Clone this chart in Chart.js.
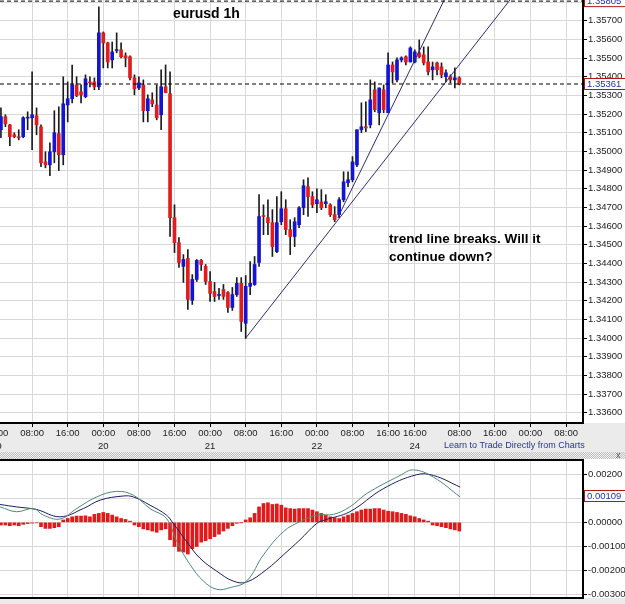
<!DOCTYPE html>
<html>
<head>
<meta charset="utf-8">
<script src="https://cdn.jsdelivr.net/npm/chart.js@4.4.0/dist/chart.umd.min.js"></script>
<style>
  html, body { margin: 0; padding: 0; background: #ebebeb; }
  #wrap { position: relative; width: 625px; height: 604px; overflow: hidden; background: #ebebeb; }
  #mainChart { position: absolute; left: 0; top: 0; }
  #hatch { position: absolute; left: 0; top: 452px; width: 625px; height: 7px;
           background: repeating-conic-gradient(#c0c0c0 0 25%, #f0f0f0 0 50%) 0 0 / 2px 2px; }
  #close { position: absolute; left: 616px; top: 450px; font: 9px "Liberation Sans", Arial, sans-serif; color: #555; }
  #macdChart { position: absolute; left: 0; top: 459px; }
</style>
</head>
<body>
<div id="wrap">
  <canvas id="mainChart" width="625" height="452"></canvas>
  <div id="hatch"></div>
  <div id="close">x</div>
  <canvas id="macdChart" width="625" height="145"></canvas>
</div>
<script>
/* eurusd 1h — candles + MACD panel */

// hourly bars, index 1 = 01:00 on the 19th
const candleOpen = [
  1.35116, 1.35186, 1.35142, 1.35089, 1.35075, 1.35079, 1.35178, 1.35180, 1.35191, 1.35132,
  1.34944, 1.34928, 1.34998, 1.35095, 1.34982, 1.35249, 1.35282, 1.35356, 1.35319, 1.35293,
  1.35370, 1.35372, 1.35346, 1.35635, 1.35581, 1.35490, 1.35540, 1.35544, 1.35512, 1.35507,
  1.35394, 1.35340, 1.35356, 1.35218, 1.35276, 1.35249, 1.35196, 1.35346, 1.35309, 1.34645,
  1.34511, 1.34384, 1.34426, 1.34202, 1.34314, 1.34416, 1.34384, 1.34303, 1.34249, 1.34228,
  1.34260, 1.34244, 1.34164, 1.34233, 1.34293, 1.34079, 1.34277, 1.34287, 1.34405, 1.34656,
  1.34645, 1.34618, 1.34463, 1.34623, 1.34693, 1.34581, 1.34544, 1.34607, 1.34698, 1.34811,
  1.34758, 1.34720, 1.34730, 1.34720, 1.34714, 1.34661, 1.34661, 1.34741, 1.34832, 1.34848,
  1.34928, 1.35116, 1.35132, 1.35142, 1.35330, 1.35207, 1.35330, 1.35207, 1.35463, 1.35383,
  1.35490, 1.35507, 1.35479, 1.35479, 1.35528, 1.35517, 1.35479, 1.35437, 1.35474, 1.35453,
  1.35400, 1.35400, 1.35383, 1.35394
];
const candleHigh = [
  1.35233, 1.35196, 1.35145, 1.35100, 1.35116, 1.35186, 1.35212, 1.35426, 1.35233, 1.35142,
  1.34998, 1.35046, 1.35218, 1.35239, 1.35400, 1.35372, 1.35463, 1.35400, 1.35356, 1.35410,
  1.35400, 1.35394, 1.35774, 1.35640, 1.35585, 1.35586, 1.35635, 1.35581, 1.35528, 1.35512,
  1.35410, 1.35400, 1.35383, 1.35303, 1.35314, 1.35356, 1.35437, 1.35463, 1.35426, 1.34714,
  1.34538, 1.34447, 1.34474, 1.34340, 1.34421, 1.34421, 1.34394, 1.34356, 1.34298, 1.34266,
  1.34287, 1.34249, 1.34271, 1.34324, 1.34324, 1.34335, 1.34410, 1.34437, 1.34768, 1.34714,
  1.34741, 1.34688, 1.34758, 1.34784, 1.34741, 1.34634, 1.34645, 1.34704, 1.34848, 1.34859,
  1.34784, 1.34800, 1.34795, 1.34768, 1.34720, 1.34704, 1.34752, 1.34891, 1.34891, 1.34972,
  1.35116, 1.35260, 1.35265, 1.35383, 1.35372, 1.35340, 1.35356, 1.35528, 1.35479, 1.35501,
  1.35507, 1.35512, 1.35560, 1.35544, 1.35597, 1.35560, 1.35560, 1.35479, 1.35479, 1.35474,
  1.35437, 1.35410, 1.35447, 1.35400
];
const candleLow = [
  1.35073, 1.35132, 1.35030, 1.35073, 1.35062, 1.35073, 1.35116, 1.35009, 1.35089, 1.34918,
  1.34912, 1.34870, 1.34939, 1.34897, 1.34928, 1.35158, 1.35260, 1.35293, 1.35260, 1.35287,
  1.35346, 1.35330, 1.35330, 1.35447, 1.35447, 1.35447, 1.35528, 1.35501, 1.35453, 1.35383,
  1.35303, 1.35330, 1.35158, 1.35158, 1.35239, 1.35169, 1.35116, 1.35314, 1.34544, 1.34458,
  1.34378, 1.34298, 1.34153, 1.34180, 1.34303, 1.34362, 1.34287, 1.34196, 1.34196, 1.34207,
  1.34207, 1.34137, 1.34148, 1.34223, 1.34035, 1.33998, 1.34233, 1.34282, 1.34384, 1.34554,
  1.34554, 1.34437, 1.34458, 1.34607, 1.34554, 1.34447, 1.34490, 1.34591, 1.34661, 1.34651,
  1.34698, 1.34672, 1.34688, 1.34698, 1.34651, 1.34623, 1.34645, 1.34730, 1.34811, 1.34837,
  1.34918, 1.35100, 1.35105, 1.35126, 1.35212, 1.35142, 1.35207, 1.35207, 1.35367, 1.35372,
  1.35479, 1.35463, 1.35479, 1.35474, 1.35501, 1.35463, 1.35410, 1.35383, 1.35410, 1.35394,
  1.35372, 1.35367, 1.35340, 1.35356
];
const candleClose = [
  1.35186, 1.35148, 1.35079, 1.35079, 1.35073, 1.35180, 1.35180, 1.35196, 1.35142, 1.34939,
  1.34928, 1.34998, 1.35100, 1.34982, 1.35255, 1.35282, 1.35356, 1.35298, 1.35303, 1.35389,
  1.35367, 1.35346, 1.35635, 1.35581, 1.35479, 1.35533, 1.35544, 1.35507, 1.35501, 1.35394,
  1.35335, 1.35367, 1.35218, 1.35282, 1.35255, 1.35180, 1.35346, 1.35314, 1.34645, 1.34511,
  1.34405, 1.34421, 1.34207, 1.34314, 1.34416, 1.34394, 1.34303, 1.34239, 1.34223, 1.34233,
  1.34223, 1.34164, 1.34233, 1.34293, 1.34089, 1.34277, 1.34293, 1.34394, 1.34651, 1.34651,
  1.34618, 1.34490, 1.34618, 1.34693, 1.34581, 1.34544, 1.34623, 1.34698, 1.34816, 1.34758,
  1.34714, 1.34741, 1.34698, 1.34730, 1.34661, 1.34634, 1.34741, 1.34837, 1.34848, 1.34944,
  1.35116, 1.35132, 1.35126, 1.35276, 1.35223, 1.35340, 1.35223, 1.35463, 1.35426, 1.35490,
  1.35501, 1.35479, 1.35554, 1.35533, 1.35507, 1.35474, 1.35426, 1.35453, 1.35437, 1.35410,
  1.35421, 1.35383, 1.35394, 1.35361
];

// MACD histogram, one per bar
const macdHist = [
  -0.00011, -0.00011, -0.00014, -0.00011, -0.00014, -0.00008, -0.00005, -0.00003, -0.00002, -0.00018,
  -0.00025, -0.00025, -0.00022, -0.00018,  0.00010,  0.00016,  0.00023,  0.00026,  0.00026,  0.00027,
   0.00023,  0.00033,  0.00037,  0.00041,  0.00037,  0.00030,  0.00023,  0.00016,  0.00012,  0.00005,
  -0.00011, -0.00018, -0.00027, -0.00031, -0.00036, -0.00041, -0.00031, -0.00027, -0.00072, -0.00100,
  -0.00120, -0.00123, -0.00131, -0.00109, -0.00100, -0.00082, -0.00076, -0.00068, -0.00059, -0.00049,
  -0.00036, -0.00025, -0.00014, -0.00004, -0.00001,  0.00010,  0.00019,  0.00037,  0.00064,  0.00078,
   0.00081,  0.00074,  0.00076,  0.00071,  0.00060,  0.00057,  0.00055,  0.00057,  0.00057,  0.00057,
   0.00051,  0.00044,  0.00037,  0.00030,  0.00023,  0.00019,  0.00016,  0.00023,  0.00030,  0.00037,
   0.00044,  0.00051,  0.00055,  0.00055,  0.00057,  0.00057,  0.00051,  0.00046,  0.00044,  0.00041,
   0.00037,  0.00033,  0.00027,  0.00023,  0.00016,  0.00010,  0.00005, -0.00011, -0.00014, -0.00018,
  -0.00022, -0.00027, -0.00031, -0.00036
];

// MACD lines read at sample hours
const macdHours   = [0.8, 4.5, 8.3, 10.5, 14.3, 18, 22.5, 27, 30.8, 34.5, 38.2, 40.5, 43.5, 46.5, 49.5, 52.5, 56.2, 60, 64.5, 68.2, 72, 75.7, 79.4, 83.2, 90.7, 93.7, 98.2, 104.2];
const macdValues  = [0.00064, 0.00044, 0.00057, 0.00030, 0.00014, 0.00057, 0.00105, 0.00128, 0.00112, 0.00057, 0.00016, -0.00079, -0.00175, -0.00243, -0.00277, -0.00270, -0.00243, -0.00134, -0.00038, 0.00003, 0.00030, 0.00033, 0.00064, 0.00119, 0.00194, 0.00217, 0.00187, 0.00105];
const signalHours = [0.8, 4.5, 9, 14.3, 19.5, 23.3, 28.5, 30.8, 34.5, 38.2, 39.7, 42.7, 45.7, 49.5, 53.2, 56.2, 60.7, 64.5, 68.2, 72, 73.8, 79.4, 86.9, 94.4, 98.2, 104.2];
const signalValues = [0.00074, 0.00064, 0.00053, 0.00023, 0.00057, 0.00092, 0.00109, 0.00105, 0.00071, 0.00030, -0.00004, -0.00079, -0.00148, -0.00202, -0.00243, -0.00247, -0.00195, -0.00134, -0.00072, -0.00004, 0.00010, 0.00044, 0.00139, 0.00197, 0.00194, 0.00146];

// hand-drawn trend lines (hour, price)
const trendLineA = [{ x: 56, y: 1.34000 }, { x: 116, y: 1.35830 }];
const trendLineB = [{ x: 76.7, y: 1.34645 }, { x: 101, y: 1.35830 }];

const lastPrice = 1.35361;
const topPrice  = 1.35805;
const lastMacd  = 0.00109;

// x axis
const xTickHours = [0, 8, 16, 24, 32, 40, 48, 56, 64, 72, 80, 88, 94, 104, 112, 120, 128];
const xTickTimes = ['00:00', '08:00', '16:00', '00:00', '08:00', '16:00', '00:00', '08:00', '16:00',
                    '00:00', '08:00', '16:00', '16:00', '08:00', '16:00', '00:00', '08:00'];
const xTickDays  = ['19', '', '', '20', '', '', '21', '', '', '22', '', '', '24', '', '', '', ''];

const chartTitle = 'eurusd 1h';
const noteLines  = ['trend line breaks. Will it', 'continue down?'];
const footerLink = 'Learn to Trade Directly from Charts';

const X_MIN = 0.787, X_MAX = 131.8;
const Y_MIN = 1.33545, Y_MAX = 1.35811;
const M_MIN = -0.00313, M_MAX = 0.00258;

const FONT = '"Liberation Sans", Arial, sans-serif';
Chart.defaults.font.family = FONT;

const UP = '#1414d4', DOWN = '#e01c1c';

const bodies = candleOpen.map((o, i) => ({ x: i + 1, y: [o, candleClose[i]] }));
const wicks  = candleLow.map((l, i) => ({ x: i + 1, y: [l, candleHigh[i]] }));
const bodyColors = candleOpen.map((o, i) => candleClose[i] >= o ? UP : DOWN);

function priceBox(ctx, y, text) {
  ctx.save();
  ctx.fillStyle = '#fff';
  ctx.fillRect(584.5, y - 6, 41, 12);
  ctx.strokeStyle = '#b01818';
  ctx.lineWidth = 1;
  ctx.strokeRect(584.5, y - 5.5, 41, 11);
  ctx.fillStyle = '#2030a8';
  ctx.font = '9.5px ' + FONT;
  ctx.textBaseline = 'middle';
  ctx.fillText(text, 587, y + 0.5);
  ctx.restore();
}

const fixedTicks = s => { s.ticks = xTickHours.map(v => ({ value: v })); };

const mainDecor = {
  id: 'mainDecor',
  beforeDraw(chart) {
    const { ctx, chartArea } = chart;
    ctx.save();
    ctx.fillStyle = '#ebebeb';
    ctx.fillRect(0, 0, chart.width, chart.height);
    ctx.fillStyle = '#fff';
    ctx.fillRect(0, 0, chart.width, chartArea.bottom);
    ctx.restore();
  },
  afterDraw(chart) {
    const { ctx } = chart;
    const y = chart.scales.y;
    ctx.save();
    ctx.fillStyle = '#000';
    ctx.font = 'bold 14px ' + FONT;
    ctx.fillText(chartTitle, 173, 18);
    ctx.font = 'bold 13.5px ' + FONT;
    ctx.fillText(noteLines[0], 389, 243);
    ctx.fillText(noteLines[1], 389, 261);
    ctx.fillStyle = '#2a3590';
    ctx.font = '9px ' + FONT;
    ctx.fillText(footerLink, 444, 448);
    ctx.restore();
    priceBox(ctx, y.getPixelForValue(topPrice), topPrice.toFixed(5));
    priceBox(ctx, y.getPixelForValue(lastPrice), lastPrice.toFixed(5));
  }
};

new Chart(document.getElementById('mainChart'), {
  type: 'bar',
  data: {
    datasets: [
      { type: 'line', data: [{ x: X_MIN, y: lastPrice }, { x: X_MAX, y: lastPrice }],
        borderColor: '#000', borderWidth: 1, borderDash: [4, 3], pointRadius: 0, order: 0 },
      { type: 'line', data: [{ x: X_MIN, y: topPrice }, { x: X_MAX, y: topPrice }],
        borderColor: '#000', borderWidth: 1, borderDash: [4, 3], pointRadius: 0, order: 0 },
      { type: 'line', data: trendLineA, borderColor: '#2c2c7c', borderWidth: 1, pointRadius: 0, order: 1 },
      { type: 'line', data: trendLineB, borderColor: '#2c2c7c', borderWidth: 1, pointRadius: 0, order: 1 },
      { data: bodies, backgroundColor: bodyColors, barThickness: 3, minBarLength: 1,
        grouped: false, borderWidth: 0, order: 2 },
      { data: wicks, backgroundColor: '#1c1c1c', barThickness: 1, grouped: false, borderWidth: 0, order: 3 }
    ]
  },
  options: {
    responsive: false,
    animation: false,
    layout: { padding: 0 },
    plugins: { legend: { display: false }, tooltip: { enabled: false } },
    scales: {
      x: {
        type: 'linear', min: X_MIN, max: X_MAX, offset: false,
        afterBuildTicks: fixedTicks,
        afterFit: s => { s.height = 29; s.paddingLeft = 0; s.paddingRight = 0; },
        ticks: {
          autoSkip: false, maxRotation: 0, padding: 0, color: '#222',
          font: { size: 9.5, lineHeight: 1.35 },
          callback: (v, i) => [xTickTimes[i], xTickDays[i]]
        },
        grid: { color: '#d8d8d8', tickLength: 4, tickColor: '#000', offset: false },
        border: { display: true, color: '#000', width: 2 }
      },
      y: {
        position: 'right', min: Y_MIN, max: Y_MAX,
        afterFit: s => { s.width = 42; s.paddingTop = 0; s.paddingBottom = 0; },
        ticks: {
          stepSize: 0.001, includeBounds: false, padding: 1, color: '#222',
          font: { size: 9.5 },
          callback: v => v.toFixed(5)
        },
        grid: { color: '#d8d8d8', tickLength: 4, tickColor: '#000' },
        border: { display: true, color: '#000', width: 2 }
      }
    }
  },
  plugins: [mainDecor]
});

const macdDecor = {
  id: 'macdDecor',
  beforeDraw(chart) {
    const { ctx, chartArea } = chart;
    ctx.save();
    ctx.fillStyle = '#ebebeb';
    ctx.fillRect(0, 0, chart.width, chart.height);
    ctx.fillStyle = '#fff';
    ctx.fillRect(0, 0, chart.width, chartArea.bottom);
    ctx.restore();
  },
  afterDraw(chart) {
    const { ctx, chartArea } = chart;
    ctx.save();
    ctx.fillStyle = '#000';
    ctx.fillRect(0, chartArea.top - 1, chartArea.right + 1, 2);
    ctx.restore();
    priceBox(ctx, chart.scales.y.getPixelForValue(lastMacd), lastMacd.toFixed(5));
  }
};

new Chart(document.getElementById('macdChart'), {
  type: 'bar',
  data: {
    datasets: [
      { type: 'line', data: macdHours.map((h, i) => ({ x: h, y: macdValues[i] })),
        borderColor: '#4f8a72', borderWidth: 1, pointRadius: 0, tension: 0.4, order: 0 },
      { type: 'line', data: signalHours.map((h, i) => ({ x: h, y: signalValues[i] })),
        borderColor: '#1c1c6a', borderWidth: 1, pointRadius: 0, tension: 0.4, order: 1 },
      { data: macdHist.map((v, i) => ({ x: i + 1, y: v })), backgroundColor: '#e01a1a',
        barThickness: 3, grouped: false, borderWidth: 0, order: 2 }
    ]
  },
  options: {
    responsive: false,
    animation: false,
    layout: { padding: { top: 1 } },
    plugins: { legend: { display: false }, tooltip: { enabled: false } },
    scales: {
      x: {
        type: 'linear', min: X_MIN, max: X_MAX, offset: false,
        afterBuildTicks: fixedTicks,
        afterFit: s => { s.height = 6; s.paddingLeft = 0; s.paddingRight = 0; },
        ticks: { display: false },
        grid: { color: '#d8d8d8', drawTicks: false, offset: false },
        border: { display: true, color: '#000', width: 2 }
      },
      y: {
        position: 'right', min: M_MIN, max: M_MAX,
        afterFit: s => { s.width = 42; s.paddingTop = 0; s.paddingBottom = 0; },
        ticks: {
          stepSize: 0.001, includeBounds: false, padding: 1, color: '#222',
          font: { size: 9.5 },
          callback: v => Math.abs(v) < 1e-9 ? '0.00000' : v.toFixed(5)
        },
        grid: { color: '#d8d8d8', tickLength: 4, tickColor: '#000' },
        border: { display: true, color: '#000', width: 2 }
      }
    }
  },
  plugins: [macdDecor]
});
</script>
</body>
</html>
